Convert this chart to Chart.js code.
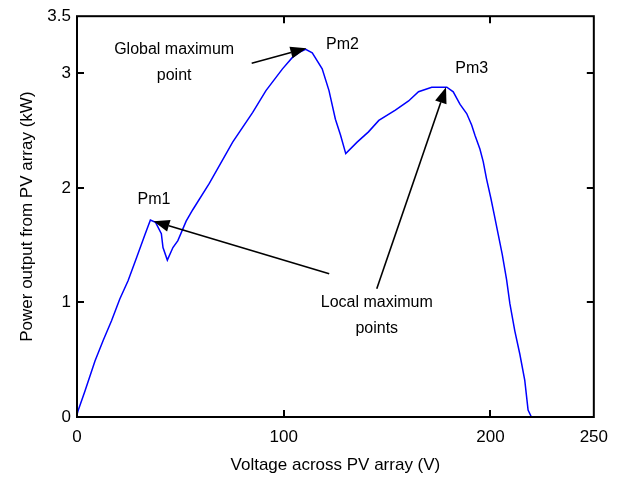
<!DOCTYPE html>
<html>
<head>
<meta charset="utf-8">
<script src="https://cdn.jsdelivr.net/npm/chart.js@4"></script>
<style>
  html, body { margin: 0; padding: 0; background: #ffffff; }
  #wrap { width: 618px; height: 480px; position: relative; }
</style>
</head>
<body>
<div id="wrap"><canvas id="c" width="618" height="480"></canvas></div>
<script>
// ---- data ----
const voltage = [0, 0.6, 3.9, 8.7, 12.7, 16.7, 20.7, 24.7, 28.8, 32.8, 35.5, 38, 40.8, 41.6, 43.7, 46.4, 48.8, 52.8, 56, 64, 75.3, 85, 91.4, 99.4, 104.2, 108, 110.6, 113.8, 118.6, 121.9, 125, 127.5, 130, 135.5, 141, 146, 154, 160.4, 165.2, 171.6, 178.9, 182, 185.3, 188.5, 190.9, 192.5, 194.9, 196.5, 198.1, 200.2, 201.8, 203.8, 205.7, 207.8, 209.4, 211.8, 214.2, 216.6, 218.2, 219.8];
const power   = [0.02, 0.06, 0.23, 0.49, 0.67, 0.84, 1.03, 1.19, 1.39, 1.59, 1.72, 1.70, 1.60, 1.48, 1.37, 1.48, 1.54, 1.71, 1.81, 2.04, 2.40, 2.66, 2.85, 3.04, 3.14, 3.19, 3.21, 3.18, 3.04, 2.85, 2.60, 2.46, 2.30, 2.40, 2.49, 2.59, 2.68, 2.76, 2.84, 2.88, 2.88, 2.84, 2.73, 2.65, 2.55, 2.46, 2.34, 2.23, 2.08, 1.91, 1.77, 1.59, 1.42, 1.20, 0.99, 0.75, 0.55, 0.32, 0.06, 0];
const xTickValues = [0, 100, 200, 250];
const yTickValues = [0, 1, 2, 3, 3.5];
const xTickLabels = ['0', '100', '200', '250'];
const yTickLabels = ['0', '1', '2', '3', '3.5'];
const xTitle = 'Voltage across PV array (V)';
const yTitle = 'Power output from PV array (kW)';
const xMinorTickValues = [100, 200];
const yMinorTickValues = [1, 2, 3];

// annotation texts (positions given in data units)
const peakLabels = ['Pm1', 'Pm2', 'Pm3'];
const peakLabelAt = [[29.3, 1.9], [120.5, 3.25], [183, 3.04]];
const noteTexts = [['Global maximum', 'point'], ['Local maximum', 'points']];
const noteAt = [[47, 3.21], [145, 1.0]];
// arrows: [fromV, fromP, toV, toP]
const arrows = [
  [84.5, 3.09, 111, 3.22],
  [122, 1.25, 37, 1.71],
  [145, 1.12, 178.5, 2.88]
];

const FONT = '"Liberation Sans", Arial, sans-serif';
const pts = voltage.map((v, i) => ({ x: v, y: power[i] }));

const decor = {
  id: 'decor',
  afterDatasetsDraw(chart) {
    const { ctx, chartArea: a, scales: { x, y } } = chart;
    ctx.save();
    // frame
    ctx.strokeStyle = '#000';
    ctx.lineWidth = 2;
    ctx.strokeRect(a.left, a.top, a.right - a.left, a.bottom - a.top);
    // inward ticks
    const L = 7;
    ctx.lineWidth = 2;
    ctx.beginPath();
    xMinorTickValues.forEach(v => {
      const px = Math.round(x.getPixelForValue(v));
      ctx.moveTo(px, a.bottom); ctx.lineTo(px, a.bottom - L);
      ctx.moveTo(px, a.top); ctx.lineTo(px, a.top + L);
    });
    yMinorTickValues.forEach(v => {
      const py = Math.round(y.getPixelForValue(v));
      ctx.moveTo(a.left, py); ctx.lineTo(a.left + L, py);
      ctx.moveTo(a.right, py); ctx.lineTo(a.right - L, py);
    });
    ctx.stroke();

    // arrows
    ctx.strokeStyle = '#000';
    ctx.fillStyle = '#000';
    ctx.lineWidth = 1.6;
    arrows.forEach(([v0, p0, v1, p1]) => {
      const x0 = x.getPixelForValue(v0), y0 = y.getPixelForValue(p0);
      const x1 = x.getPixelForValue(v1), y1 = y.getPixelForValue(p1);
      const ang = Math.atan2(y1 - y0, x1 - x0);
      const hl = 16, hw = 6;
      const bx = x1 - hl * Math.cos(ang), by = y1 - hl * Math.sin(ang);
      ctx.beginPath();
      ctx.moveTo(x0, y0); ctx.lineTo(bx, by);
      ctx.stroke();
      ctx.beginPath();
      ctx.moveTo(x1, y1);
      ctx.lineTo(bx + hw * Math.sin(ang), by - hw * Math.cos(ang));
      ctx.lineTo(bx - hw * Math.sin(ang), by + hw * Math.cos(ang));
      ctx.closePath();
      ctx.fill();
    });

    // texts
    ctx.fillStyle = '#000';
    ctx.font = '16px ' + FONT;
    ctx.textBaseline = 'middle';
    ctx.textAlign = 'left';
    peakLabels.forEach((t, i) => {
      ctx.fillText(t, x.getPixelForValue(peakLabelAt[i][0]), y.getPixelForValue(peakLabelAt[i][1]));
    });
    ctx.textAlign = 'center';
    noteTexts.forEach((lines, i) => {
      const cx = x.getPixelForValue(noteAt[i][0]);
      const cy = y.getPixelForValue(noteAt[i][1]);
      lines.forEach((ln, j) => ctx.fillText(ln, cx, cy + j * 26));
    });
    ctx.restore();
  }
};

new Chart(document.getElementById('c'), {
  type: 'scatter',
  data: {
    datasets: [{
      data: pts,
      showLine: true,
      borderColor: '#0000ff',
      borderWidth: 1.5,
      pointRadius: 0,
      tension: 0,
      fill: false
    }]
  },
  options: {
    responsive: false,
    animation: false,
    events: [],
    layout: { padding: { top: 14, right: 22, left: 0, bottom: 0 } },
    plugins: { legend: { display: false }, tooltip: { enabled: false } },
    scales: {
      x: {
        type: 'linear', min: 0, max: 250,
        afterBuildTicks: s => { s.ticks = xTickValues.map(v => ({ value: v })); },
        afterFit: s => { s.height = 63; },
        grid: { display: false, drawTicks: false },
        border: { display: false },
        ticks: {
          color: '#000', padding: 10, maxRotation: 0, autoSkip: false,
          font: { family: FONT, size: 17 },
          callback: (v) => xTickLabels[xTickValues.indexOf(v)]
        },
        title: { display: true, text: xTitle, color: '#000', font: { family: FONT, size: 17 }, padding: { top: 0, bottom: 4 } }
      },
      y: {
        type: 'linear', min: 0, max: 3.5,
        afterBuildTicks: s => { s.ticks = yTickValues.map(v => ({ value: v })); },
        afterFit: s => { s.width = 77; },
        grid: { display: false, drawTicks: false },
        border: { display: false },
        ticks: {
          color: '#000', padding: 6, autoSkip: false,
          font: { family: FONT, size: 17 },
          callback: (v) => yTickLabels[yTickValues.indexOf(v)]
        },
        title: { display: true, text: yTitle, color: '#000', font: { family: FONT, size: 17 }, padding: { top: 17, bottom: 0 } }
      }
    }
  },
  plugins: [decor]
});
</script>
</body>
</html>
